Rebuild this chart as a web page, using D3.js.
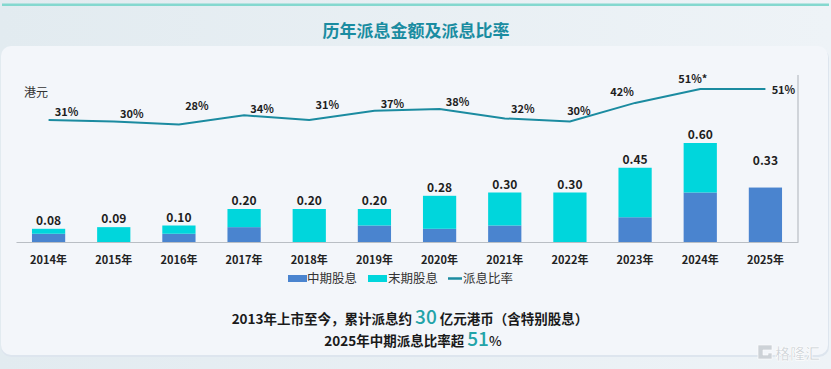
<!DOCTYPE html>
<html>
<head>
<meta charset="utf-8">
<script src="https://cdn.jsdelivr.net/npm/d3@7"></script>
<style>
  body { margin: 0; background: #e9eff3; }
  svg { display: block; font-family: "Noto Sans CJK SC", "Noto Sans", sans-serif; }
</style>
</head>
<body>
<svg width="831" height="369"></svg>
<script>
// data
const years = ["2014年","2015年","2016年","2017年","2018年","2019年","2020年","2021年","2022年","2023年","2024年","2025年"];
const interim = [0.05, 0, 0.05, 0.09, 0, 0.10, 0.08, 0.10, 0, 0.15, 0.30, 0.33];
const finalDiv = [0.03, 0.09, 0.05, 0.11, 0.20, 0.10, 0.20, 0.20, 0.30, 0.30, 0.30, 0];
const totalLabels = ["0.08","0.09","0.10","0.20","0.20","0.20","0.28","0.30","0.30","0.45","0.60","0.33"];
const payout = [31, 30, 28, 34, 31, 37, 38, 32, 30, 42, 51, 51];
const payoutLabels = ["31%","30%","28%","34%","31%","37%","38%","32%","30%","42%","51%*","51%"];
const legendNames = ["中期股息", "末期股息", "派息比率"];

const blue = "#4a84cf", cyan = "#00d6dc", lineCol = "#1b8ba0";

const svg = d3.select("svg");
const W = 831, H = 369;

// background
const defs = svg.append("defs");
const bg = defs.append("linearGradient").attr("id", "bg").attr("x1", 0).attr("x2", 1);
bg.append("stop").attr("offset", 0).attr("stop-color", "#e2ebf0");
bg.append("stop").attr("offset", 1).attr("stop-color", "#eef3f7");
svg.append("rect").attr("width", W).attr("height", H).attr("fill", "url(#bg)");
svg.append("rect").attr("x", 2).attr("y", 3.5).attr("width", W - 4).attr("height", 2.5).attr("fill", "#84d8cf");

// panel
svg.append("rect").attr("x", 1).attr("y", 48).attr("width", 828).attr("height", 309).attr("rx", 10)
  .attr("fill", "#dde5ee");
svg.append("rect").attr("x", 1).attr("y", 46).attr("width", 827).attr("height", 309).attr("rx", 10)
  .attr("fill", "#f3f6fa");

svg.append("text").attr("x", 416).attr("y", 37).attr("text-anchor", "middle")
  .attr("font-size", 17).attr("font-weight", 700).attr("fill", "#1a8ca1")
  .text("历年派息金额及派息比率");

// scales
const x = d3.scaleBand().domain(years).range([16, 798]).paddingInner(0.49).paddingOuter(0.245);
const y = d3.scaleLinear().domain([0, 1]).range([242, 77]);
const yPct = d3.scaleLinear().domain([0, 100]).range([168, 13]);

const rows = years.map((yr, i) => ({ yr, a: interim[i], b: finalDiv[i], lab: totalLabels[i], p: payout[i], pl: payoutLabels[i] }));

// x axis
const xAxis = svg.append("g").attr("transform", "translate(0,242)")
  .call(d3.axisBottom(x).tickSize(0).tickPadding(14));
xAxis.select(".domain").attr("stroke", "#b9bec4").attr("stroke-width", 1.2);
xAxis.selectAll("text").attr("font-size", 11).attr("font-weight", 700).attr("fill", "#222")
  .attr("font-family", "'Noto Sans CJK SC', sans-serif");
svg.append("line").attr("x1", 798).attr("x2", 798).attr("y1", 75).attr("y2", 242)
  .attr("stroke", "#b9bec4").attr("stroke-width", 1.2);

// stacked bars
const bars = svg.append("g");
bars.selectAll(".int").data(rows).enter().append("rect")
  .attr("x", d => x(d.yr)).attr("width", x.bandwidth())
  .attr("y", d => y(d.a)).attr("height", d => y(0) - y(d.a)).attr("fill", blue);
bars.selectAll(".fin").data(rows).enter().append("rect")
  .attr("x", d => x(d.yr)).attr("width", x.bandwidth())
  .attr("y", d => y(d.a + d.b)).attr("height", d => y(d.a) - y(d.a + d.b)).attr("fill", cyan);

// value labels (2025 label sits higher, leaving room for the final dividend to come)
bars.selectAll(".val").data(rows).enter().append("text")
  .attr("x", d => x(d.yr) + x.bandwidth() / 2)
  .attr("y", d => y(d.a + d.b) - (d.b === 0 && d.yr === "2025年" ? 23 : 4))
  .attr("text-anchor", "middle").attr("font-size", 12).attr("font-weight", 700).attr("fill", "#1e1e1e")
  .text(d => d.lab);

// payout ratio line
const cx = d => x(d.yr) + x.bandwidth() / 2;
svg.append("path").datum(rows)
  .attr("d", d3.line().x(cx).y(d => yPct(d.p)))
  .attr("fill", "none").attr("stroke", lineCol).attr("stroke-width", 2);

const nudge = { "2016年": [18, -15], "2017年": [18, -2], "2018年": [18, -11], "2019年": [18, -3],
  "2020年": [18, -3], "2021年": [18, -5], "2022年": [9, -7], "2023年": [-13, -7], "2024年": [-11, -6], "2025年": [18, 5] };
svg.append("g").selectAll("text").data(rows).enter().append("text")
  .attr("x", d => cx(d) + (nudge[d.yr] || [18, -4])[0])
  .attr("y", d => yPct(d.p) + (nudge[d.yr] || [18, -4])[1])
  .attr("text-anchor", d => d.yr === "2024年" ? "start" : "middle")
  .attr("dx", d => d.yr === "2024年" ? -11 : 0)
  .attr("font-size", 11).attr("font-weight", 700).attr("fill", "#1e1e1e")
  .text(d => d.pl);

svg.append("text").attr("x", 24).attr("y", 97).attr("font-size", 12).attr("fill", "#333").text("港元");

// legend
const lg = svg.append("g");
lg.append("rect").attr("x", 288).attr("y", 275).attr("width", 19).attr("height", 7).attr("fill", blue);
lg.append("rect").attr("x", 368).attr("y", 275).attr("width", 19).attr("height", 7).attr("fill", cyan);
lg.append("line").attr("x1", 448).attr("x2", 462).attr("y1", 278.5).attr("y2", 278.5)
  .attr("stroke", lineCol).attr("stroke-width", 2.5);
lg.selectAll("text").data(legendNames).enter().append("text")
  .attr("x", (d, i) => [307, 388, 463][i]).attr("y", 283)
  .attr("font-size", 12.5).attr("fill", "#333").text(d => d);

// summary lines
const t1 = svg.append("text").attr("x", 410).attr("y", 324).attr("text-anchor", "middle")
  .attr("font-size", 13.5).attr("font-weight", 700).attr("fill", "#1a1a1a");
t1.append("tspan").text("2013年上市至今，累计派息约 ");
t1.append("tspan").attr("font-size", 19).attr("font-weight", 500).attr("fill", "#22a3a8").text("30");
t1.append("tspan").text(" 亿元港币（含特别股息）");
const t2 = svg.append("text").attr("x", 413).attr("y", 346).attr("text-anchor", "middle")
  .attr("font-size", 13.5).attr("font-weight", 700).attr("fill", "#1a1a1a");
t2.append("tspan").text("2025年中期派息比率超 ");
t2.append("tspan").attr("font-size", 19).attr("font-weight", 500).attr("fill", "#22a3a8").text("51");
t2.append("tspan").attr("font-weight", 500).text("%");

// watermark
const wm = svg.append("g").attr("fill", "#cdd2d7").attr("stroke", "#fff").attr("stroke-width", 0.6);
wm.append("path").attr("d", "M758,345 h14 v5 h-9 v5 h5 v-2 h4 v6 h-14 z");
wm.append("text").attr("x", 775).attr("y", 359).attr("font-size", 15).attr("font-weight", 700).text("格隆汇");
</script>
</body>
</html>
